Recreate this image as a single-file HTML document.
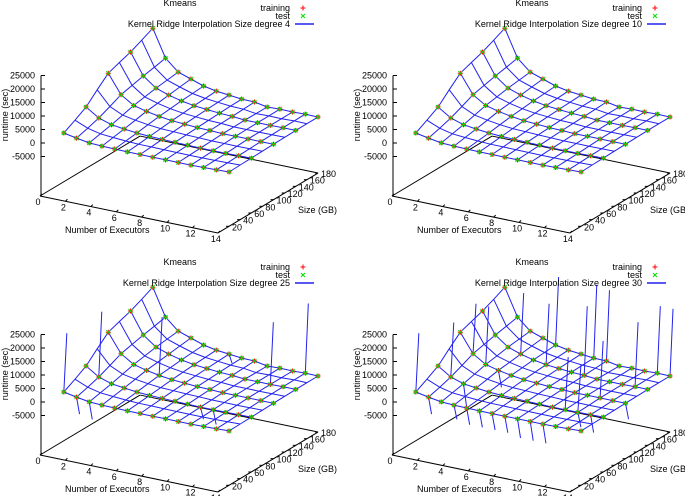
<!DOCTYPE html>
<html><head><meta charset="utf-8"><style>
html,body{margin:0;padding:0;background:#fff;}
svg{display:block;font-family:"Liberation Sans","DejaVu Sans",sans-serif;}
</style></head><body>
<svg id="chart" width="685" height="496" viewBox="0 0 685 496" xmlns="http://www.w3.org/2000/svg"></svg>
<script>
const executors = [1,2,3,4,5,6,7,8,9,10,11,12,13,14];
const sizes = [20,40,60,80,100,120,140,160,180];
const runtime = [
  [2200,1300,500,300,200,100,100,100,100,100,100,200,300,500],
  [4500,2500,1400,1000,700,500,450,400,350,300,300,350,450,600],
  [6900,3800,2300,1700,1200,900,800,700,600,500,500,500,600,700],
  [10800,5600,3400,2500,1800,1350,1150,950,850,700,700,700,750,800],
  [14500,7500,4500,3300,2400,1800,1500,1200,1100,900,900,900,900,900],
  [16000,8500,5200,3800,2800,2100,1750,1400,1250,950,950,950,1000,1000],
  [17400,9500,6000,4400,3200,2400,2000,1600,1400,1000,1000,1000,1100,1100],
  [19300,10300,6500,4900,3500,2650,2200,1750,1600,950,1050,1000,1150,1100],
  [21300,11200,7000,5400,3800,2900,2400,1900,1800,900,1100,1000,1200,1100]
];
const pointRows = [0,2,4,6,8];
const degrees = [4,10,25,30];
const spikes25 = [[1,0,24000],[2,2,28000],[2,0,-5000],[3,0,-6000],[10,2,-4000],[12,6,24000],[13,8,27000],[11,2,-5000],[5,4,24000],[7,8,-1000]];
const spikes30 = [[1,0,24000],[2,2,24000],[2,4,26000],[3,4,26000],[4,6,27000],[5,8,29000],[6,6,25000],[8,8,29000],[9,8,28000],[9,6,27000],[12,4,22000],[13,6,25000],[13,8,26000],[14,8,26000],[11,2,20000],[12,2,18000],
  [2,0,-5000],[3,2,-6000],[4,0,-5000],[5,0,-6000],[6,0,-6000],[7,0,-6000],[8,0,-6000],[9,0,-7000],[10,0,-7000],[11,0,-7000],[12,2,-5000],[13,2,-6000],[14,4,-5000],[4,4,-3000]];
const spikeSets = [[],[],spikes25,spikes30];
const zTicks = [-5000,0,5000,10000,15000,20000,25000];
const eTicks = [0,2,4,6,8,10,12,14];
const sTicks = [20,40,60,80,100,120,140,160,180];

const svg = document.getElementById('chart');
const NS = 'http://www.w3.org/2000/svg';
function mk(tag, attrs, parent){const el=document.createElementNS(NS,tag);for(const k in attrs)el.setAttribute(k,attrs[k]);parent.appendChild(el);return el;}
const offsets = [[0,0],[352,0],[0,259],[352,259]];

degrees.forEach((deg,pi)=>{
  const ox=offsets[pi][0], oy=offsets[pi][1];
  const g = mk('g',{},svg);
  
  
  const px=(e,s)=>ox+40+12.71*e+0.556*s;
  const pyb=(e,s)=>oy+196+2.64*e-0.333*s;
  const py=(e,s,z)=>pyb(e,s)-53-0.0027*z;
  const ax = mk('g',{stroke:'#000','stroke-width':1,fill:'none'},g);
  
  
  mk('line',{x1:px(0,0),y1:pyb(0,0),x2:px(14,0),y2:pyb(14,0)},ax);
  mk('line',{x1:px(14,0),y1:pyb(14,0),x2:px(14,180),y2:pyb(14,180)},ax);
  mk('line',{x1:px(0,0),y1:pyb(0,0),x2:px(0,180),y2:pyb(0,180)},ax);
  mk('line',{x1:px(0,180),y1:pyb(0,180),x2:px(14,180),y2:pyb(14,180)},ax);
  const zx=ox+41;
  mk('line',{x1:zx,y1:pyb(0,0),x2:zx,y2:oy+143-0.0027*25000},ax);
  zTicks.forEach(z=>{
    const y=oy+143-0.0027*z;
    mk('line',{x1:zx,y1:y,x2:zx+4,y2:y},ax);
    const t=mk('text',{x:zx-6,y:y+3,'font-size':9,'text-anchor':'end',fill:'#000'},g);
    t.textContent=z;
    
    
  });
  eTicks.forEach(e=>{
    mk('line',{x1:px(e,0),y1:pyb(e,0),x2:px(e,0)+2,y2:pyb(e,0)-2},ax);
    const t=mk('text',{x:px(e,0)-2,y:pyb(e,0)+9,'font-size':9,'text-anchor':'middle',fill:'#000'},g);
    t.textContent=e;
    
    
  });
  sTicks.forEach(s=>{
    mk('line',{x1:px(14,s),y1:pyb(14,s),x2:px(14,s)-3,y2:pyb(14,s)},ax);
    const t=mk('text',{x:px(14,s)+3,y:pyb(14,s)+4,'font-size':9,'text-anchor':'start',fill:'#000'},g);
    t.textContent=s;
    
    
  });
  const xl=mk('text',{x:ox+65,y:oy+233,'font-size':9,fill:'#000'},g);
  xl.textContent='Number of Executors';
  
  
  const sl=mk('text',{x:ox+298,y:oy+213,'font-size':9,fill:'#000'},g);
  sl.textContent='Size (GB)';
  
  
  const yl=mk('text',{x:0,y:0,'font-size':9,fill:'#000','text-anchor':'middle',transform:`translate(${ox+8},${oy+115}) rotate(-90)`},g);
  yl.textContent='runtime (sec)';
  
  
  const ti=mk('text',{x:ox+180,y:oy+6,'font-size':9,'text-anchor':'middle',fill:'#000'},g);
  ti.textContent='Kmeans';
  
  
  const sf=mk('g',{stroke:'#2222ee','stroke-width':1,fill:'none'},g);
  
  
  sizes.forEach((s,si)=>{
    const pts=executors.map((e,ei)=>px(e,s).toFixed(1)+','+py(e,s,runtime[si][ei]).toFixed(1)).join(' ');
    const l=mk('polyline',{points:pts},sf);
    
    
  });
  executors.forEach((e,ei)=>{
    const pts=sizes.map((s,si)=>px(e,s).toFixed(1)+','+py(e,s,runtime[si][ei]).toFixed(1)).join(' ');
    const l=mk('polyline',{points:pts},sf);
    
    
  });
  spikeSets[pi].forEach(sp=>{
    const e=sp[0], si=sp[1], s=sizes[si];
    const l=mk('line',{x1:px(e,s),y1:py(e,s,runtime[si][e-1]),x2:px(e,s)+3,y2:py(e,s,sp[2])},sf);
    
    
  });
  const pg=mk('g',{'stroke-width':1,fill:'none'},g);
  
  
  pointRows.forEach(si=>executors.forEach((e,ei)=>{
    const s=sizes[si];
    const x=px(e,s), y=py(e,s,runtime[si][ei]);
    const tr=mk('path',{d:`M${x-2.5},${y}h5M${x},${y-2.5}v5`,stroke:'#ff0000'},pg);
    
    
    const te=mk('path',{d:`M${x-2},${y-2}l4,4M${x+2},${y-2}l-4,4`,stroke:'#00dd00'},pg);
    
    
  }));
  const lg=mk('g',{},g);
  
  
  const lt=[['training',11],['test',19],['Kernel Ridge Interpolation Size degree '+deg,27]];
  lt.forEach(it=>{
    const t=mk('text',{x:ox+290,y:oy+it[1],'font-size':9,'text-anchor':'end',fill:'#000'},lg);
    t.textContent=it[0];
    
    
  });
  const y1=oy+8,y2=oy+16,x=ox+303;
  mk('path',{d:`M${x-2.5},${y1}h5M${x},${y1-2.5}v5`,stroke:'#ff0000'},lg);
  mk('path',{d:`M${x-2},${y2-2}l4,4M${x+2},${y2-2}l-4,4`,stroke:'#00dd00'},lg);
  mk('line',{x1:ox+295,y1:oy+24,x2:ox+314,y2:oy+24,stroke:'#2222ee','stroke-width':1.5},lg);
});
</script>
</body></html>
